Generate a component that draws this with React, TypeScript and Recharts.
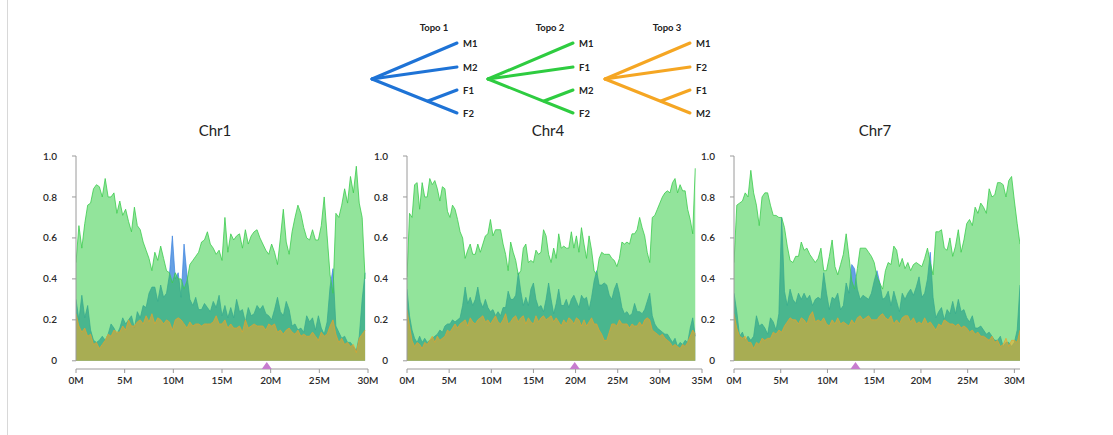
import React from 'react';
import { ComposedChart, Area, Scatter, XAxis, YAxis, ReferenceLine } from 'recharts';

// window size along each chromosome, in Mb
const STEP = 0.3;

const chr1Topo1 = [
  0.30, 0.20, 0.32, 0.21, 0.27, 0.15, 0.10, 0.09, 0.10, 0.12,
  0.10, 0.13, 0.18, 0.16, 0.13, 0.16, 0.21, 0.18, 0.20, 0.22,
  0.16, 0.24, 0.21, 0.27, 0.26, 0.33, 0.36, 0.36, 0.29, 0.37,
  0.31, 0.33, 0.42, 0.61, 0.40, 0.43, 0.31, 0.57, 0.42, 0.30,
  0.27, 0.31, 0.25, 0.25, 0.28, 0.26, 0.24, 0.29, 0.26, 0.32,
  0.22, 0.27, 0.21, 0.26, 0.21, 0.30, 0.24, 0.25, 0.19, 0.26,
  0.22, 0.23, 0.27, 0.25, 0.27, 0.23, 0.22, 0.20, 0.25, 0.31,
  0.24, 0.22, 0.29, 0.25, 0.17, 0.18, 0.15, 0.16, 0.14, 0.22,
  0.19, 0.21, 0.15, 0.22, 0.16, 0.13, 0.19, 0.36, 0.45, 0.17,
  0.14, 0.11, 0.12, 0.09, 0.09, 0.07, 0.05, 0.12, 0.30, 0.43,
];
const chr1Topo2 = [
  0.48, 0.66, 0.55, 0.67, 0.76, 0.77, 0.84, 0.86, 0.85, 0.80,
  0.89, 0.80, 0.80, 0.82, 0.72, 0.78, 0.71, 0.74, 0.68, 0.63,
  0.75, 0.66, 0.64, 0.58, 0.54, 0.50, 0.44, 0.53, 0.49, 0.56,
  0.50, 0.44, 0.43, 0.38, 0.43, 0.40, 0.40, 0.35, 0.39, 0.47,
  0.49, 0.51, 0.53, 0.58, 0.59, 0.63, 0.57, 0.55, 0.52, 0.54,
  0.49, 0.70, 0.53, 0.62, 0.59, 0.61, 0.62, 0.55, 0.64, 0.57,
  0.61, 0.63, 0.64, 0.60, 0.57, 0.54, 0.52, 0.57, 0.53, 0.47,
  0.60, 0.74, 0.58, 0.52, 0.63, 0.70, 0.76, 0.72, 0.65, 0.60,
  0.59, 0.64, 0.59, 0.59, 0.66, 0.80, 0.61, 0.42, 0.33, 0.72,
  0.70, 0.76, 0.84, 0.77, 0.90, 0.82, 0.95, 0.77, 0.70, 0.40,
];
const chr1Topo3 = [
  0.23, 0.17, 0.14, 0.16, 0.12, 0.13, 0.08, 0.09, 0.06, 0.08,
  0.10, 0.13, 0.12, 0.15, 0.14, 0.14, 0.17, 0.15, 0.20, 0.17,
  0.17, 0.19, 0.20, 0.18, 0.22, 0.19, 0.23, 0.18, 0.21, 0.20,
  0.18, 0.20, 0.19, 0.15, 0.20, 0.21, 0.20, 0.18, 0.16, 0.19,
  0.17, 0.18, 0.18, 0.17, 0.18, 0.18, 0.18, 0.19, 0.22, 0.18,
  0.18, 0.20, 0.16, 0.18, 0.16, 0.16, 0.17, 0.14, 0.20, 0.16,
  0.17, 0.18, 0.17, 0.17, 0.17, 0.15, 0.18, 0.17, 0.18, 0.14,
  0.15, 0.13, 0.15, 0.16, 0.14, 0.13, 0.15, 0.12, 0.13, 0.12,
  0.12, 0.14, 0.12, 0.10, 0.14, 0.12, 0.13, 0.17, 0.20, 0.13,
  0.09, 0.11, 0.08, 0.09, 0.07, 0.08, 0.04, 0.11, 0.13, 0.15,
];

const chr4Topo1 = [
  0.35, 0.22, 0.15, 0.11, 0.09, 0.12, 0.09, 0.11, 0.09, 0.10,
  0.11, 0.12, 0.13, 0.15, 0.14, 0.17, 0.18, 0.18, 0.20, 0.19,
  0.20, 0.21, 0.27, 0.36, 0.28, 0.31, 0.27, 0.30, 0.36, 0.29,
  0.26, 0.30, 0.26, 0.24, 0.25, 0.22, 0.24, 0.22, 0.26, 0.26,
  0.34, 0.30, 0.30, 0.32, 0.43, 0.34, 0.27, 0.31, 0.27, 0.35,
  0.38, 0.30, 0.26, 0.27, 0.24, 0.30, 0.38, 0.30, 0.23, 0.28,
  0.35, 0.27, 0.27, 0.30, 0.26, 0.30, 0.32, 0.29, 0.26, 0.32,
  0.30, 0.31, 0.25, 0.31, 0.39, 0.44, 0.37, 0.37, 0.38, 0.37,
  0.32, 0.30, 0.35, 0.38, 0.33, 0.26, 0.23, 0.24, 0.22, 0.23,
  0.28, 0.24, 0.24, 0.23, 0.25, 0.29, 0.33, 0.22, 0.18, 0.16,
  0.15, 0.14, 0.13, 0.13, 0.11, 0.09, 0.11, 0.07, 0.09, 0.08,
  0.10, 0.09, 0.16, 0.21, 0.12,
];
const chr4Topo2 = [
  0.41, 0.72, 0.70, 0.86, 0.87, 0.74, 0.87, 0.80, 0.80, 0.89,
  0.86, 0.88, 0.84, 0.78, 0.85, 0.84, 0.73, 0.70, 0.76, 0.74,
  0.69, 0.63, 0.60, 0.50, 0.54, 0.57, 0.52, 0.52, 0.57, 0.53,
  0.57, 0.61, 0.62, 0.69, 0.61, 0.64, 0.64, 0.64, 0.57, 0.52,
  0.44, 0.58, 0.53, 0.49, 0.42, 0.44, 0.55, 0.57, 0.48, 0.49,
  0.48, 0.54, 0.52, 0.53, 0.64, 0.61, 0.52, 0.48, 0.55, 0.50,
  0.62, 0.55, 0.56, 0.55, 0.55, 0.63, 0.55, 0.61, 0.53, 0.65,
  0.57, 0.50, 0.61, 0.54, 0.44, 0.42, 0.50, 0.53, 0.52, 0.52,
  0.52, 0.50, 0.49, 0.46, 0.50, 0.58, 0.57, 0.58, 0.57, 0.62,
  0.62, 0.64, 0.70, 0.65, 0.61, 0.53, 0.48, 0.70, 0.71, 0.74,
  0.77, 0.80, 0.82, 0.83, 0.82, 0.87, 0.89, 0.82, 0.86, 0.83,
  0.83, 0.74, 0.69, 0.62, 0.94,
];
const chr4Topo3 = [
  0.25, 0.17, 0.10, 0.07, 0.09, 0.08, 0.06, 0.09, 0.08, 0.10,
  0.12, 0.09, 0.12, 0.10, 0.11, 0.12, 0.15, 0.14, 0.16, 0.18,
  0.16, 0.18, 0.19, 0.20, 0.17, 0.21, 0.19, 0.18, 0.20, 0.21,
  0.22, 0.19, 0.20, 0.18, 0.20, 0.22, 0.19, 0.18, 0.20, 0.23,
  0.18, 0.19, 0.21, 0.22, 0.19, 0.21, 0.22, 0.18, 0.21, 0.19,
  0.18, 0.22, 0.19, 0.21, 0.22, 0.20, 0.21, 0.22, 0.19, 0.21,
  0.19, 0.17, 0.20, 0.18, 0.21, 0.20, 0.18, 0.21, 0.20, 0.17,
  0.20, 0.17, 0.19, 0.21, 0.18, 0.18, 0.15, 0.13, 0.10, 0.10,
  0.14, 0.18, 0.18, 0.17, 0.20, 0.18, 0.18, 0.18, 0.16, 0.18,
  0.17, 0.17, 0.19, 0.17, 0.20, 0.21, 0.20, 0.15, 0.14, 0.13,
  0.12, 0.13, 0.11, 0.10, 0.09, 0.07, 0.08, 0.07, 0.06, 0.08,
  0.07, 0.09, 0.12, 0.15, 0.13,
];

const chr7Topo1 = [
  0.33, 0.24, 0.12, 0.14, 0.10, 0.12, 0.10, 0.12, 0.22, 0.17,
  0.18, 0.16, 0.13, 0.21, 0.19, 0.15, 0.23, 0.70, 0.34, 0.27,
  0.35, 0.30, 0.28, 0.33, 0.30, 0.33, 0.30, 0.32, 0.27, 0.30,
  0.31, 0.30, 0.43, 0.33, 0.25, 0.31, 0.30, 0.33, 0.25, 0.27,
  0.38, 0.33, 0.47, 0.45, 0.35, 0.30, 0.32, 0.31, 0.30, 0.33,
  0.39, 0.44, 0.38, 0.30, 0.31, 0.34, 0.27, 0.34, 0.29, 0.24,
  0.33, 0.30, 0.33, 0.35, 0.32, 0.36, 0.41, 0.31, 0.33, 0.40,
  0.53, 0.31, 0.21, 0.24, 0.26, 0.20, 0.25, 0.23, 0.29, 0.23,
  0.30, 0.24, 0.25, 0.21, 0.19, 0.22, 0.16, 0.16, 0.17, 0.15,
  0.13, 0.14, 0.12, 0.10, 0.10, 0.12, 0.07, 0.09, 0.09, 0.07,
  0.09, 0.15, 0.37,
];
const chr7Topo2 = [
  0.48, 0.76, 0.77, 0.78, 0.82, 0.80, 0.93, 0.82, 0.76, 0.66,
  0.80, 0.82, 0.82, 0.76, 0.71, 0.71, 0.70, 0.70, 0.65, 0.56,
  0.49, 0.48, 0.51, 0.51, 0.58, 0.54, 0.55, 0.52, 0.50, 0.48,
  0.50, 0.55, 0.44, 0.44, 0.51, 0.59, 0.46, 0.42, 0.47, 0.52,
  0.62, 0.51, 0.39, 0.35, 0.45, 0.55, 0.55, 0.55, 0.53, 0.51,
  0.48, 0.41, 0.38, 0.35, 0.44, 0.48, 0.47, 0.56, 0.54, 0.46,
  0.50, 0.45, 0.48, 0.44, 0.47, 0.48, 0.47, 0.46, 0.50, 0.55,
  0.48, 0.42, 0.63, 0.63, 0.64, 0.55, 0.54, 0.60, 0.51, 0.56,
  0.64, 0.53, 0.59, 0.67, 0.69, 0.66, 0.75, 0.72, 0.77, 0.75,
  0.72, 0.84, 0.80, 0.81, 0.87, 0.87, 0.86, 0.80, 0.88, 0.90,
  0.78, 0.67, 0.57,
];
const chr7Topo3 = [
  0.23, 0.16, 0.12, 0.11, 0.12, 0.09, 0.09, 0.06, 0.09, 0.08,
  0.11, 0.10, 0.11, 0.11, 0.14, 0.13, 0.15, 0.14, 0.17, 0.19,
  0.21, 0.20, 0.20, 0.18, 0.21, 0.20, 0.18, 0.22, 0.24, 0.19,
  0.20, 0.19, 0.21, 0.18, 0.17, 0.20, 0.18, 0.21, 0.18, 0.19,
  0.18, 0.17, 0.20, 0.18, 0.21, 0.22, 0.20, 0.21, 0.22, 0.20,
  0.20, 0.20, 0.22, 0.23, 0.21, 0.20, 0.22, 0.18, 0.20, 0.18,
  0.21, 0.22, 0.22, 0.19, 0.21, 0.18, 0.19, 0.18, 0.21, 0.18,
  0.19, 0.17, 0.15, 0.18, 0.17, 0.20, 0.19, 0.18, 0.18, 0.17,
  0.18, 0.16, 0.17, 0.16, 0.14, 0.15, 0.13, 0.14, 0.12, 0.12,
  0.11, 0.10, 0.12, 0.09, 0.10, 0.07, 0.08, 0.11, 0.07, 0.10,
  0.10, 0.09, 0.15,
];

const yTicks = [0, 0.2, 0.4, 0.6, 0.8, 1.0];
const ticks30 = [0, 5, 10, 15, 20, 25, 30];
const ticks35 = [0, 5, 10, 15, 20, 25, 30, 35];

// centromere positions (Mb)
const centromeres = { chr1: 19.6, chr4: 19.9, chr7: 13.0 };

const BLUE = '#1e73d6';
const GREEN = '#2ecc40';
const ORANGE = '#f5a623';
const FONT = 'Lato, "Open Sans", sans-serif';
const tickStyle = { fill: '#2a2a2a', fontSize: 10, fontWeight: 600, fontFamily: FONT };

const buildRows = (t1: number[], t2: number[], t3: number[]) =>
  t2.map((_, i) => ({ pos: +(i * STEP).toFixed(1), topo1: t1[i], topo2: t2[i], topo3: t3[i] }));

const Triangle = (props: any) => {
  const { cx, cy } = props;
  if (cx == null || cy == null) return null;
  return <polygon points={`${cx},${cy - 3} ${cx - 5},${cy + 4} ${cx + 5},${cy + 4}`} fill="#c77dcf" />;
};

interface PanelProps {
  data: Array<{ pos: number; topo1: number; topo2: number; topo3: number }>;
  xMax: number;
  ticks: number[];
  centromere: number;
  left: number;
  width: number;
}

const Panel: React.FC<PanelProps> = ({ data, xMax, ticks, centromere, left, width }) => (
  <div style={{ position: 'absolute', left, top: 140 }}>
    <ComposedChart width={width} height={259} data={data} margin={{ top: 16, right: 10, bottom: 0, left: 0 }}>
      <XAxis
        dataKey="pos"
        type="number"
        domain={[0, xMax]}
        ticks={ticks}
        tickFormatter={(v: number) => `${v}M`}
        stroke="#9a9a9a"
        tickSize={4}
        tickMargin={4}
        height={30}
        tick={tickStyle}
        allowDataOverflow
      />
      <YAxis
        type="number"
        domain={[-0.04, 1]}
        ticks={yTicks}
        tickFormatter={(v: number) => (v === 0 ? '0' : v.toFixed(1))}
        axisLine={false}
        tickLine={{ stroke: '#9a9a9a' }}
        tickSize={4}
        tickMargin={15}
        width={56}
        tick={tickStyle}
        allowDataOverflow
      />
      <Area type="linear" dataKey="topo1" stroke="#3b82e0" strokeWidth={0.7} fill={BLUE} fillOpacity={0.68} dot={false} activeDot={false} isAnimationActive={false} />
      <Area type="linear" dataKey="topo2" stroke="#3ccc4e" strokeWidth={0.8} fill={GREEN} fillOpacity={0.52} dot={false} activeDot={false} isAnimationActive={false} />
      <Area type="linear" dataKey="topo3" stroke="#e8a22a" strokeWidth={0.7} fill={ORANGE} fillOpacity={0.55} dot={false} activeDot={false} isAnimationActive={false} />
      <ReferenceLine segment={[{ x: 0, y: 0 }, { x: 0, y: 1 }]} stroke="#9a9a9a" />
      <Scatter data={[{ pos: centromere, mark: -0.02 }]} dataKey="mark" shape={Triangle} isAnimationActive={false} />
    </ComposedChart>
  </div>
);

// small topology trees drawn above the panels
const Tree: React.FC<{ x: number; color: string; title: string; tips: string[] }> = ({ x, color, title, tips }) => {
  const rootX = x;
  const tipX = x + 85;
  const innerX = x + 56;
  const ys = [43, 67, 90, 113];
  return (
    <g>
      <text x={x + 62} y={31} textAnchor="middle" fontSize={9.5} fontWeight={700} fill="#222" fontFamily={FONT}>{title}</text>
      <g stroke={color} strokeWidth={3} strokeLinecap="round" fill="none">
        <line x1={rootX} y1={79} x2={tipX} y2={ys[0]} />
        <line x1={rootX} y1={79} x2={tipX} y2={ys[1]} />
        <line x1={rootX} y1={79} x2={tipX} y2={ys[3]} />
        <line x1={innerX} y1={101} x2={tipX} y2={ys[2]} />
      </g>
      {tips.map((t, i) => (
        <text key={t} x={tipX + 6} y={ys[i] + 3.5} fontSize={9.5} fontWeight={700} fill="#222" fontFamily={FONT}>{t}</text>
      ))}
    </g>
  );
};

export default function App() {
  const chr1 = buildRows(chr1Topo1, chr1Topo2, chr1Topo3);
  const chr4 = buildRows(chr4Topo1, chr4Topo2, chr4Topo3);
  const chr7 = buildRows(chr7Topo1, chr7Topo2, chr7Topo3);
  return (
    <div style={{ position: 'fixed', left: 0, top: 0, width: 1113, height: 435, background: '#fff', overflow: 'hidden' }}>
      <svg width={1113} height={435} style={{ position: 'absolute', left: 0, top: 0 }}>
        <line x1={7.5} y1={0} x2={7.5} y2={435} stroke="#d8d8d8" />
        <Tree x={372} color={BLUE} title="Topo 1" tips={['M1', 'M2', 'F1', 'F2']} />
        <Tree x={488} color={GREEN} title="Topo 2" tips={['M1', 'F1', 'M2', 'F2']} />
        <Tree x={605} color={ORANGE} title="Topo 3" tips={['M1', 'F2', 'F1', 'M2']} />
        <g fontFamily={FONT} fontSize={15} fill="#222" textAnchor="middle">
          <text x={215} y={136}>Chr1</text>
          <text x={548} y={136}>Chr4</text>
          <text x={875} y={136}>Chr7</text>
        </g>
      </svg>
      <Panel data={chr1} xMax={30} ticks={ticks30} centromere={centromeres.chr1} left={20} width={358} />
      <Panel data={chr4} xMax={35} ticks={ticks35} centromere={centromeres.chr4} left={351} width={361} />
      <Panel data={chr7} xMax={30.6} ticks={ticks30} centromere={centromeres.chr7} left={678} width={352} />
    </div>
  );
}
